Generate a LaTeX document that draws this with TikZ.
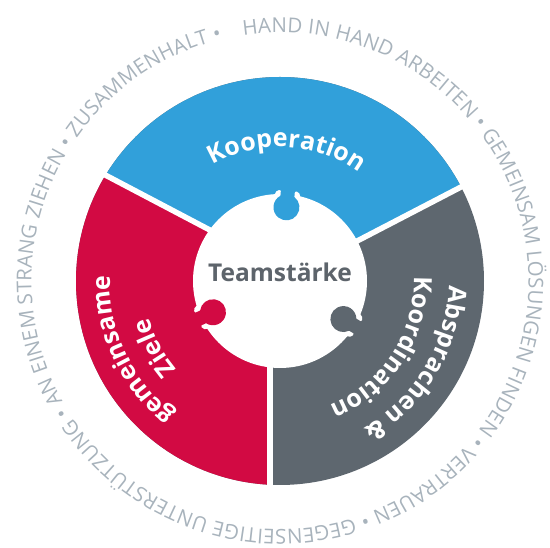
\documentclass[tikz,border=0pt]{standalone}
\usepackage{fontspec}
\setmainfont{Open Sans}
\usetikzlibrary{decorations.text}
\definecolor{kblue}{HTML}{31A0DA}
\definecolor{kred}{HTML}{D20A43}
\definecolor{kgray}{HTML}{5E676F}
\definecolor{ringtxt}{HTML}{A8B3BC}
\definecolor{ctrtxt}{HTML}{5D646B}
\newcommand{\segfont}{\fontsize{25}{30}\selectfont\bfseries\color{white}}
\newcommand{\ringfont}{\fontsize{20.5}{24}\selectfont\color{ringtxt}}
\newcommand{\knob}[2]{%
  \begin{scope}[rotate=#1]
    \fill[white] (85.5,-13) .. controls (88,-12.5) and (90.5,-11) .. (90.5,-9)
      .. controls (90.5,-7.5) and (90,-6.5) .. (89,-6.5) -- (89,6.5)
      .. controls (90,6.5) and (90.5,7.5) .. (90.5,9)
      .. controls (90.5,11) and (88,12.5) .. (85.5,13) -- cycle;
    \fill[#2] (96,-7) -- (84.9,-7) arc[start angle=-32.6, end angle=-327.4, radius=13pt] -- (96,7) -- cycle;
  \end{scope}}
\tikzset{
  gapline/.style={white, line width=5.5pt},
  seglabel/.style={decorate, decoration={text along path, text align=center, text={|\segfont|#1}}}
}
\begin{document}
\begin{tikzpicture}[x=1pt, y=1pt, shift={(280,267)}]
\useasboundingbox (-280,-267) rectangle (270,281);
% ring sectors
\fill[kgray] (0,0) circle[radius=204pt];
\begin{scope}
  \clip (0,0) circle[radius=204pt];
  \fill[kred] (-10,-300) -- (-10,19.2) -- (-400,224.4) -- (-400,-300) -- cycle;
  \fill[kblue] (-400,224.4) -- (13.5,7) -- (400,207.8) -- (400,400) -- (-400,400) -- cycle;
\end{scope}
\begin{scope}
  \clip (0,0) circle[radius=210pt];
  \draw[gapline] (13.5,7) -- (-400,224.4);
  \draw[gapline] (-10,-5.3) -- (400,207.8);
  \draw[gapline] (-10,19.2) -- (-10,-300);
\end{scope}
% inner white circle and knobs
\fill[white] (0,0) circle[radius=87pt];
\knob{85}{kblue}
\knob{205}{kred}
\knob{-31}{kgray}
\node (team) at (0,9) {\fontsize{24.5}{30}\selectfont\bfseries\color{ctrtxt}Teamstärke};
% segment labels
\path[seglabel={Kooperation}] (137:134) arc[start angle=137, end angle=37, radius=134pt];
\path[seglabel={gemeinsame}] (255:170) arc[start angle=255, end angle=155, radius=170pt];
\path[seglabel={Ziele}] (258:136) arc[start angle=258, end angle=158, radius=136pt];
\path[seglabel={Absprachen {\&}}] (19:169) arc[start angle=19, end angle=-81, radius=169pt];
\path[seglabel={Koordination}] (17:134) arc[start angle=17, end angle=-83, radius=134pt];
% outer ring text
\path[decorate, decoration={text along path, text align=fit to path,
  text={|\ringfont|HAND IN HAND ARBEITEN • GEMEINSAM LÖSUNGEN FINDEN • VERTRAUEN • GEGENSEITIGE UNTERSTÜTZUNG • AN EINEM STRANG ZIEHEN • ZUSAMMENHALT •}}]
  (98.5:248.5) arc[start angle=98.5, end angle=-256.5, radius=248.5pt];
\end{tikzpicture}
\end{document}
